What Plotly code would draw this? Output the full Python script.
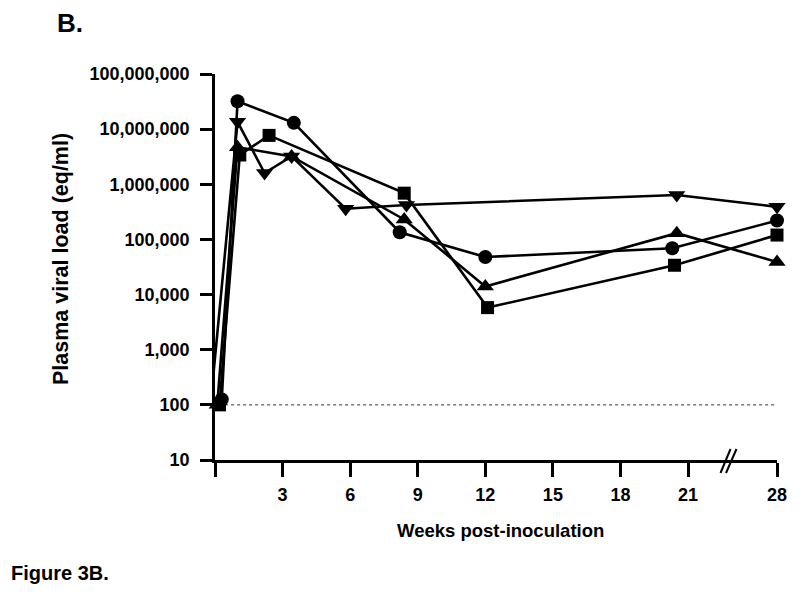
import plotly.graph_objects as go

# ---- data (weeks post-inoculation, plasma viral load eq/ml) ----
weeks_circle = [0.3, 1.0, 3.5, 8.2, 12.0, 20.3, 28]
load_circle = [125, 32000000, 13000000, 135000, 48000, 69000, 220000]

weeks_square = [0.2, 1.1, 2.4, 8.4, 12.1, 20.4, 28]
load_square = [100, 3400000, 7700000, 690000, 5800, 34000, 120000]

weeks_tri_up = [0.1, 1.0, 3.4, 8.4, 12.0, 20.5, 28]
load_tri_up = [100, 4700000, 3200000, 230000, 14000, 130000, 39000]

weeks_tri_down = [-0.2, 1.0, 2.2, 3.4, 5.8, 8.5, 20.5, 28]
load_tri_down = [100, 13600000, 1600000, 3200000, 360000, 420000, 640000, 390000]

detection_limit = 100

x_tick_weeks = [0, 3, 6, 9, 12, 15, 18, 21, 28]
x_tick_labels = ["", "3", "6", "9", "12", "15", "18", "21", "28"]
y_tick_vals = [10, 100, 1000, 10000, 100000, 1000000, 10000000, 100000000]
y_tick_labels = ["10", "100", "1,000", "10,000", "100,000", "1,000,000",
                 "10,000,000", "100,000,000"]

# broken axis: weeks beyond 21 are compressed
BREAK_AT = 21
COMPRESS = 3.95 / 7.0


def disp(w):
    return w if w <= BREAK_AT else BREAK_AT + (w - BREAK_AT) * COMPRESS


FONT = "Liberation Sans, Arial, sans-serif"
BLACK = "#000000"

fig = go.Figure()

# detection limit dotted line
fig.add_trace(go.Scatter(
    x=[0.45, disp(28) + 0.2], y=[detection_limit, detection_limit],
    mode="lines", line=dict(color="#333333", width=1, dash="dot"),
    showlegend=False, hoverinfo="skip", cliponaxis=False))

series = [
    (weeks_circle, load_circle, "circle", 14),
    (weeks_square, load_square, "square", 13),
    (weeks_tri_up, load_tri_up, "triangle-up", 15),
    (weeks_tri_down, load_tri_down, "triangle-down", 15),
]
for wk, ld, sym, sz in series:
    fig.add_trace(go.Scatter(
        x=[disp(w) for w in wk], y=ld, mode="lines+markers",
        line=dict(color=BLACK, width=2.6),
        marker=dict(symbol=sym, size=sz, color=BLACK, line=dict(width=0)),
        showlegend=False, cliponaxis=False))

x_end = disp(28)

fig.update_xaxes(
    range=[0, x_end], tickvals=[disp(w) for w in x_tick_weeks], ticktext=x_tick_labels,
    showgrid=False, zeroline=False, showline=True, linecolor=BLACK, linewidth=2.6,
    ticks="outside", ticklen=14, tickwidth=2.6, tickcolor=BLACK,
    tickfont=dict(family=FONT, size=18, color=BLACK, weight="bold"),
    ticklabelstandoff=3)
fig.update_yaxes(
    type="log", range=[1, 8], tickvals=y_tick_vals, ticktext=y_tick_labels,
    showgrid=False, zeroline=False, showline=True, linecolor=BLACK, linewidth=2.6,
    ticks="outside", ticklen=12, tickwidth=2.6, tickcolor=BLACK,
    tickfont=dict(family=FONT, size=18, color=BLACK, weight="bold"),
    ticklabelstandoff=7)

# page has an 8px body margin; work in page pixel coordinates
OFF = 8
W, H = 792, 603
L, T = 215 - OFF, 74 - OFF
PW, PH = 562, 386
R = W - L - PW
B = H - T - PH


def px(xp):
    return (xp - OFF - L) / PW


def py(yp):
    return (T + PH - (yp - OFF)) / PH


# axis break marks
for x0, x1 in [(720.5, 730.5), (726.0, 736.5)]:
    fig.add_shape(type="line", xref="paper", yref="paper",
                  x0=px(x0), x1=px(x1), y0=py(473), y1=py(449),
                  line=dict(color=BLACK, width=2))

fig.add_annotation(text="B.", xref="paper", yref="paper", x=px(55), y=py(23),
                   xanchor="left", yanchor="middle", showarrow=False,
                   font=dict(family=FONT, size=26, color=BLACK, weight="bold"))
fig.add_annotation(text="Figure 3B.", xref="paper", yref="paper", x=px(9), y=py(573),
                   xanchor="left", yanchor="middle", showarrow=False,
                   font=dict(family=FONT, size=20, color=BLACK, weight="bold"))
fig.add_annotation(text="Weeks post-inoculation", xref="paper", yref="paper",
                   x=px(500), y=py(530), xanchor="center", yanchor="middle",
                   showarrow=False,
                   font=dict(family=FONT, size=18.5, color=BLACK, weight="bold"))
fig.add_annotation(text="Plasma viral load (eq/ml)", xref="paper", yref="paper",
                   x=px(61), y=py(259), xanchor="center", yanchor="middle",
                   textangle=-90, showarrow=False,
                   font=dict(family=FONT, size=21.5, color=BLACK, weight="bold"))

fig.update_layout(
    width=W, height=H, margin=dict(l=L, r=R, t=T, b=B, pad=0),
    plot_bgcolor="white", paper_bgcolor="white", showlegend=False)

fig.write_html("out.html")
